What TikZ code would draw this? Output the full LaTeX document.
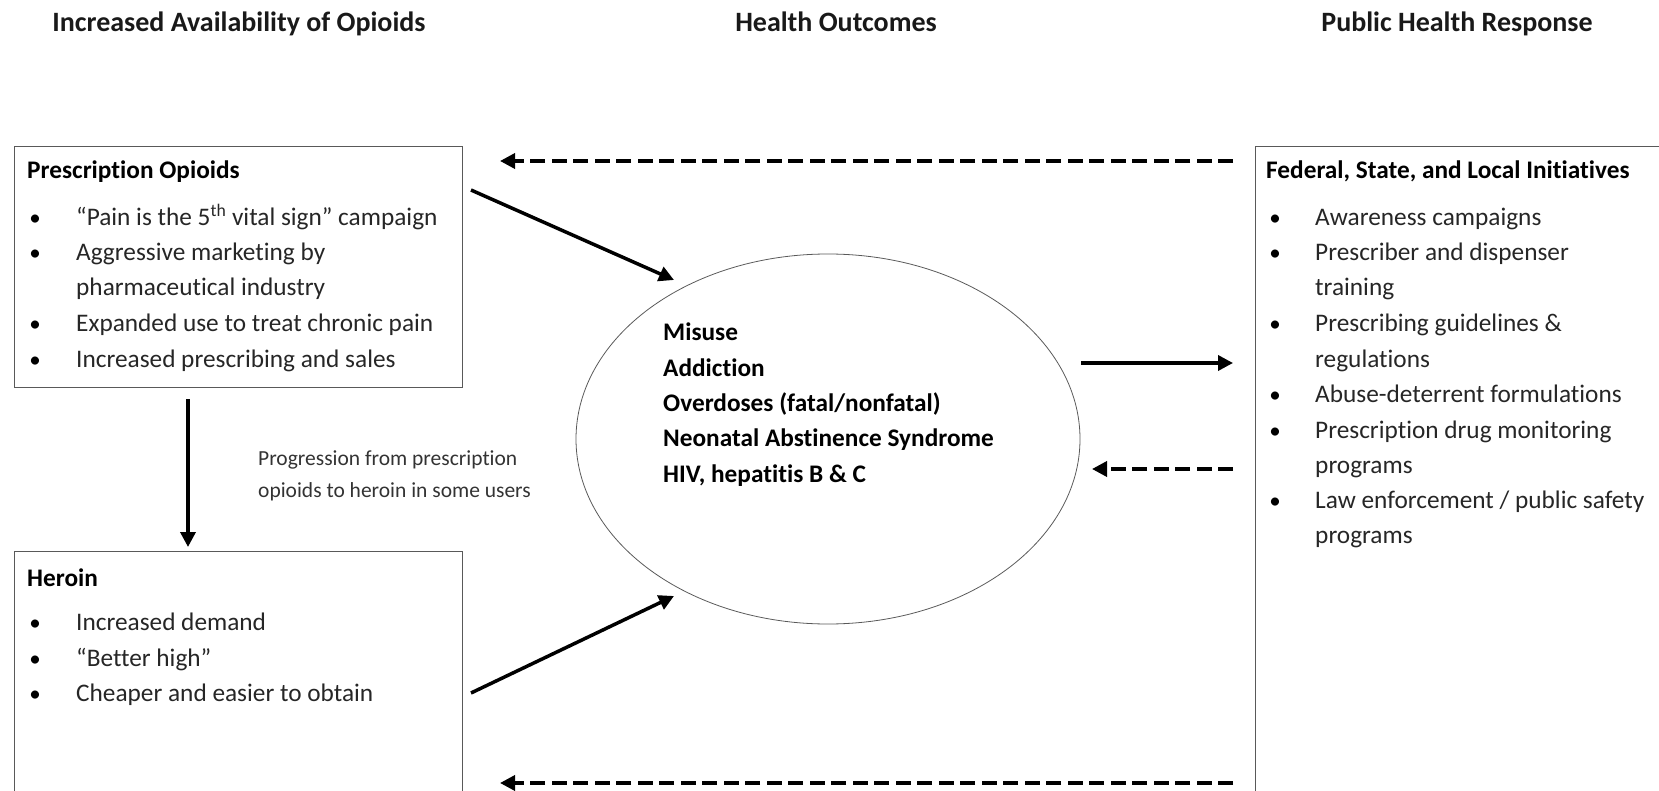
\documentclass[tikz,border=0pt]{standalone}
\usepackage{fontspec}
\setmainfont{Carlito}[Ligatures=NoCommon]
\usetikzlibrary{arrows.meta,shapes.geometric}
\begin{document}
\begin{tikzpicture}[x=1pt,y=-1pt,
  box/.style={draw=black!65,line width=1.2pt,rectangle,inner sep=0pt},
  txt/.style={anchor=base west,inner sep=0pt,font=\fontsize{25.3}{30}\selectfont,text=black!85},
  hd/.style={anchor=base west,inner sep=0pt,font=\bfseries\fontsize{25.3}{30}\selectfont},
  ttl/.style={anchor=base,inner sep=0pt,font=\bfseries\fontsize{28}{32}\selectfont,text=black!90},
  bul/.style={anchor=base,inner sep=0pt,font=\fontsize{23}{25}\selectfont},
  small/.style={anchor=base west,inner sep=0pt,font=\fontsize{21.5}{24}\selectfont,text=black!80},
  arr/.style={line width=3.5pt,-{Triangle[length=15pt,width=15pt]}},
  darr/.style={arr,dash pattern=on 15pt off 6.5pt}]
\useasboundingbox (0,0) rectangle (1659,791);
\clip (0,0) rectangle (1659,791);
% titles
\node[ttl] (t1) at (239,32) {Increased Availability of Opioids};
\node[ttl] (t2) at (836,32) {Health Outcomes};
\node[ttl] (t3) at (1457,32) {Public Health Response};
% boxes
\node[box,anchor=north west,minimum width=448pt,minimum height=241pt] (po) at (14,146) {};
\node[box,anchor=north west,minimum width=448pt,minimum height=260pt] (he) at (14,551) {};
\node[box,anchor=north west,minimum width=420pt,minimum height=660pt] (ph) at (1255,146) {};
\node[ellipse,draw=black!65,line width=0.8pt,minimum width=504pt,minimum height=370pt,inner sep=0pt] (ho) at (828,439) {};
% prescription opioids
\node[hd] (po0) at (27,179) {Prescription Opioids};
\node[bul] (pob1) at (35,226) {•};
\node[txt] (po1) at (76,226) {“Pain is the 5\textsuperscript{th} vital sign” campaign};
\node[bul] (pob2) at (35,261) {•};
\node[txt] (po2) at (76,261) {Aggressive marketing by};
\node[txt] (po3) at (76,296) {pharmaceutical industry};
\node[bul] (pob4) at (35,331) {•};
\node[txt] (po4) at (76,331) {Expanded use to treat chronic pain};
\node[bul] (pob5) at (35,367) {•};
\node[txt] (po5) at (76,367) {Increased prescribing and sales};
% heroin
\node[hd] (he0) at (27,586) {Heroin};
\node[bul] (heb1) at (35,630) {•};
\node[txt] (he1) at (76,630) {Increased demand};
\node[bul] (heb2) at (35,666) {•};
\node[txt] (he2) at (76,666) {“Better high”};
\node[bul] (heb3) at (35,701) {•};
\node[txt] (he3) at (76,701) {Cheaper and easier to obtain};
% progression label
\node[small] (pg1) at (258,465) {Progression from prescription};
\node[small] (pg2) at (258,497) {opioids to heroin in some users};
% health outcomes
\node[hd] (ho1) at (663,341) {Misuse};
\node[hd] (ho2) at (663,376) {Addiction};
\node[hd] (ho3) at (663,411) {Overdoses (fatal/nonfatal)};
\node[hd] (ho4) at (663,446) {Neonatal Abstinence Syndrome};
\node[hd] (ho5) at (663,482) {HIV, hepatitis B \& C};
% public health response
\node[hd] (ph0) at (1266,179) {Federal, State, and Local Initiatives};
\node[bul] (phb1) at (1275,226) {•};
\node[txt] (ph1) at (1315,226) {Awareness campaigns};
\node[bul] (phb2) at (1275,261) {•};
\node[txt] (ph2) at (1315,261) {Prescriber and dispenser};
\node[txt] (ph3) at (1315,296) {training};
\node[bul] (phb4) at (1275,331) {•};
\node[txt] (ph4) at (1315,331) {Prescribing guidelines \&};
\node[txt] (ph5) at (1315,367) {regulations};
\node[bul] (phb6) at (1275,402) {•};
\node[txt] (ph6) at (1315,402) {Abuse-deterrent formulations};
\node[bul] (phb7) at (1275,438) {•};
\node[txt] (ph7) at (1315,438) {Prescription drug monitoring};
\node[txt] (ph8) at (1315,473) {programs};
\node[bul] (phb9) at (1275,508) {•};
\node[txt] (ph9) at (1315,508) {Law enforcement / public safety};
\node[txt] (ph10) at (1315,543) {programs};
% connector end points
\coordinate (a1s) at (471,190);
\coordinate (a1e) at (674,280);
\coordinate (a2s) at (471,693);
\coordinate (a2e) at (674,596);
\coordinate (v1s) at (188,399);
\coordinate (v1e) at (188,547);
\coordinate (d1s) at (1233,161);
\coordinate (d1e) at (500,161);
\coordinate (s1s) at (1081,363);
\coordinate (s1e) at (1233,363);
\coordinate (d2s) at (1233,469);
\coordinate (d2e) at (1092,469);
\coordinate (d3s) at (1233,783);
\coordinate (d3e) at (500,783);
\draw[arr] (a1s) -- (a1e);
\draw[arr] (a2s) -- (a2e);
\draw[arr] (v1s) -- (v1e);
\draw[arr] (s1s) -- (s1e);
\draw[darr] (d1s) -- (d1e);
\draw[darr] (d2s) -- (d2e);
\draw[darr] (d3s) -- (d3e);
\end{tikzpicture}
\end{document}
